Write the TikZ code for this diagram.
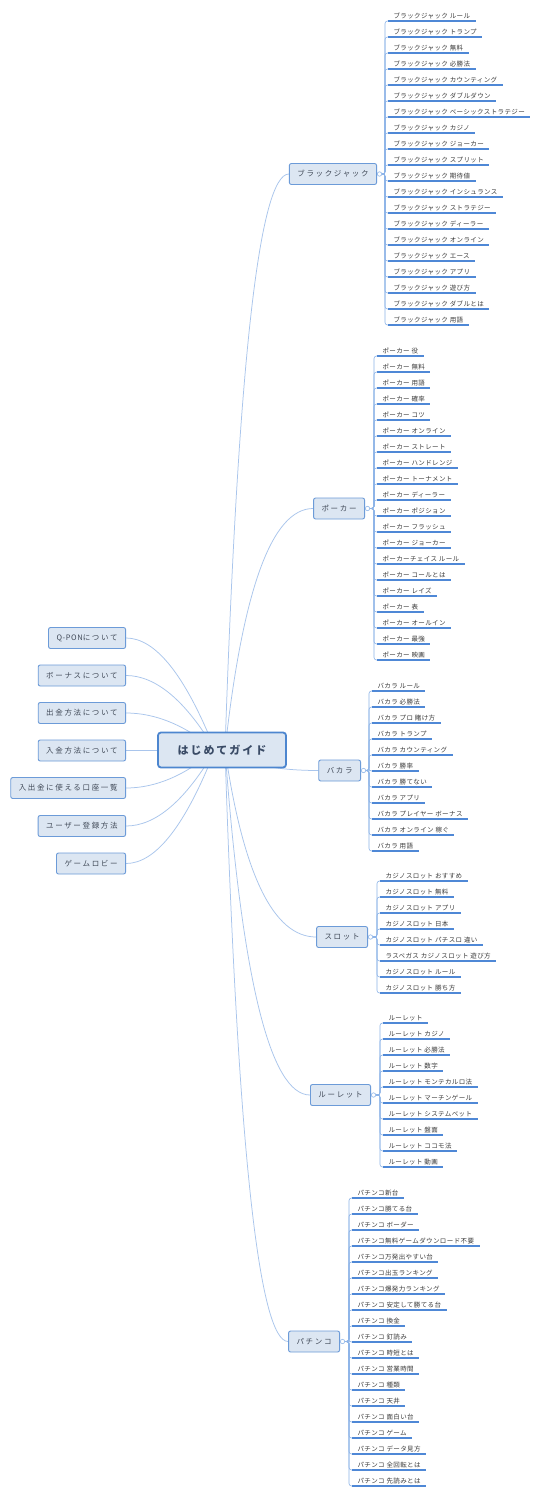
\documentclass[tikz,border=0pt]{standalone}
\usepackage{fontspec}
\setmainfont{Noto Sans CJK JP}
\newfontfamily\leaffont[LetterSpace=6]{Noto Sans CJK JP}
\newfontfamily\catfont[LetterSpace=22]{Noto Sans CJK JP}
\newfontfamily\ctrfont[LetterSpace=18]{Noto Sans CJK JP}
\usetikzlibrary{calc}
\pgfdeclarelayer{bg}
\pgfdeclarelayer{paper}
\pgfsetlayers{paper,bg,main}
\definecolor{ulc}{HTML}{4F88D6}
\definecolor{leafc}{HTML}{8DB4E8}
\definecolor{mainc}{HTML}{A9C5EC}
\definecolor{nodefill}{HTML}{DCE6F2}
\definecolor{catdraw}{HTML}{6C9BD8}
\definecolor{ctrdraw}{HTML}{4D86CF}
\definecolor{ctrtext}{HTML}{3A4B66}
\definecolor{cattext}{HTML}{414A58}
\definecolor{leaftext}{HTML}{3B3B3B}
\tikzset{
  mmctr/.style={draw=ctrdraw, line width=1.8pt, fill=nodefill, rounded corners=3pt,
    minimum width=128pt, minimum height=35pt, inner sep=0pt,
    font={\ctrfont\bfseries\fontsize{11}{13}\selectfont}, text=ctrtext},
  mmcat/.style={draw=catdraw, line width=0.9pt, fill=nodefill, rounded corners=2pt,
    minimum height=21pt, inner xsep=8pt, inner ysep=0pt,
    font={\catfont\fontsize{7.5}{9}\selectfont}, text=cattext},
  mmleaf/.style={inner xsep=5.5pt, inner ysep=1.8pt, outer sep=0pt,
    font={\leaffont\fontsize{6.5}{7}\selectfont}, text=leaftext},
  mmcirc/.style={circle, draw=leafc, line width=0.6pt, fill=white,
    minimum size=4.4pt, inner sep=0pt, anchor=west},
  mainline/.style={draw=mainc, line width=0.75pt},
  leafline/.style={draw=leafc, line width=0.6pt, rounded corners=2.5pt},
  uline/.style={draw=ulc, line width=1.2pt}
}
\newcommand\mmbranch[3]{%
  \path ($(#1)!#3!(#2)$) coordinate (tmpa);
  \path (tmpa |- #2) coordinate (tmpc);
  \draw[mainline] (#1) .. controls ($(#1)!0.6667!(tmpc)$) and ($(#2)!0.6667!(tmpc)$) .. (#2);
}
\newcommand\mmleaves[5]{%
  \foreach \t [count=\i from 0] in {#5} {
    \node[mmleaf, anchor=south west] (#1\i) at (#3, {#4+16*\i}) {\t};
    \draw[uline] (#1\i.south west) -- (#1\i.south east);
    \begin{pgfonlayer}{bg}
      \draw[leafline] (#2.east) -| ([xshift=-3pt]#1\i.south west) -- (#1\i.south west);
    \end{pgfonlayer}
  }
}
\begin{document}
\begin{tikzpicture}[x=1pt,y=-1pt]
\begin{pgfonlayer}{paper}
\fill[white] (0,0) rectangle (547,1495);
\end{pgfonlayer}
\useasboundingbox (0,0) rectangle (547,1495);

% centre
\node[mmctr] (c) at (222,750) {はじめてガイド};
\coordinate (cR) at (225,750);
\coordinate (cL) at (215,750);

% left nodes
\node[mmcat, anchor=east] (l1) at (126,638) {{\addfontfeature{LetterSpace=8}Q-PON}について};
\node[mmcat, anchor=east] (l2) at (126,675.5) {ボーナスについて};
\node[mmcat, anchor=east] (l3) at (126,713) {出金方法について};
\node[mmcat, anchor=east] (l4) at (126,750.5) {入金方法について};
\node[mmcat, anchor=east] (l5) at (126,788) {入出金に使える口座一覧};
\node[mmcat, anchor=east] (l6) at (126,826) {ユーザー登録方法};
\node[mmcat, anchor=east] (l7) at (126,863.5) {ゲームロビー};

% categories
\node[mmcat, anchor=east] (bj) at (377,174) {ブラックジャック};
\node[mmcat, anchor=east] (pk) at (365,508.5) {ポーカー};
\node[mmcat, anchor=east] (bc) at (361,770.5) {バカラ};
\node[mmcat, anchor=east] (sl) at (368,937) {スロット};
\node[mmcat, anchor=east] (rl) at (371,1095) {ルーレット};
\node[mmcat, anchor=east] (pc) at (340,1341.5) {パチンコ};

\node[mmcirc] (bjc) at (bj.east) {};
\node[mmcirc] (pkc) at (pk.east) {};
\node[mmcirc] (bcc) at (bc.east) {};
\node[mmcirc] (slc) at (sl.east) {};
\node[mmcirc] (rlc) at (rl.east) {};
\node[mmcirc] (pcc) at (pc.east) {};

\begin{pgfonlayer}{bg}
  \mmbranch{cR}{bj.west}{0.3}
  \mmbranch{cR}{pk.west}{0.3}
  \mmbranch{cR}{bc.west}{0.3}
  \mmbranch{cR}{sl.west}{0.3}
  \mmbranch{cR}{rl.west}{0.3}
  \mmbranch{cR}{pc.west}{0.3}
  \mmbranch{cL}{l1.east}{0.5}
  \mmbranch{cL}{l2.east}{0.5}
  \mmbranch{cL}{l3.east}{0.5}
  \mmbranch{cL}{l4.east}{0.5}
  \mmbranch{cL}{l5.east}{0.5}
  \mmbranch{cL}{l6.east}{0.5}
  \mmbranch{cL}{l7.east}{0.5}
\end{pgfonlayer}

\mmleaves{bjl}{bjc}{388}{21}{ブラックジャック ルール,ブラックジャック トランプ,ブラックジャック 無料,ブラックジャック 必勝法,ブラックジャック カウンティング,ブラックジャック ダブルダウン,ブラックジャック ベーシックストラテジー,ブラックジャック カジノ,ブラックジャック ジョーカー,ブラックジャック スプリット,ブラックジャック 期待値,ブラックジャック インシュランス,ブラックジャック ストラテジー,ブラックジャック ディーラー,ブラックジャック オンライン,ブラックジャック エース,ブラックジャック アプリ,ブラックジャック 遊び方,ブラックジャック ダブルとは,ブラックジャック 用語}

\mmleaves{pkl}{pkc}{377}{356}{ポーカー 役,ポーカー 無料,ポーカー 用語,ポーカー 確率,ポーカー コツ,ポーカー オンライン,ポーカー ストレート,ポーカー ハンドレンジ,ポーカー トーナメント,ポーカー ディーラー,ポーカー ポジション,ポーカー フラッシュ,ポーカー ジョーカー,ポーカーチェイス ルール,ポーカー コールとは,ポーカー レイズ,ポーカー 表,ポーカー オールイン,ポーカー 最強,ポーカー 映画}

\mmleaves{bcl}{bcc}{372}{691}{バカラ ルール,バカラ 必勝法,バカラ プロ 賭け方,バカラ トランプ,バカラ カウンティング,バカラ 勝率,バカラ 勝てない,バカラ アプリ,バカラ プレイヤー ボーナス,バカラ オンライン 稼ぐ,バカラ 用語}

\mmleaves{sll}{slc}{380}{881}{カジノスロット おすすめ,カジノスロット 無料,カジノスロット アプリ,カジノスロット 日本,カジノスロット パチスロ 違い,ラスベガス カジノスロット 遊び方,カジノスロット ルール,カジノスロット 勝ち方}

\mmleaves{rll}{rlc}{383}{1023}{ルーレット,ルーレット カジノ,ルーレット 必勝法,ルーレット 数字,ルーレット モンテカルロ法,ルーレット マーチンゲール,ルーレット システムベット,ルーレット 盤面,ルーレット ココモ法,ルーレット 動画}

\mmleaves{pcl}{pcc}{352}{1198}{パチンコ新台,パチンコ勝てる台,パチンコ ボーダー,パチンコ無料ゲームダウンロード不要,パチンコ万発出やすい台,パチンコ出玉ランキング,パチンコ爆発力ランキング,パチンコ 安定して勝てる台,パチンコ 換金,パチンコ 釘読み,パチンコ 時短とは,パチンコ 営業時間,パチンコ 種類,パチンコ 天井,パチンコ 面白い台,パチンコ ゲーム,パチンコ データ見方,パチンコ 全回転とは,パチンコ 先読みとは}
\end{tikzpicture}
\end{document}
